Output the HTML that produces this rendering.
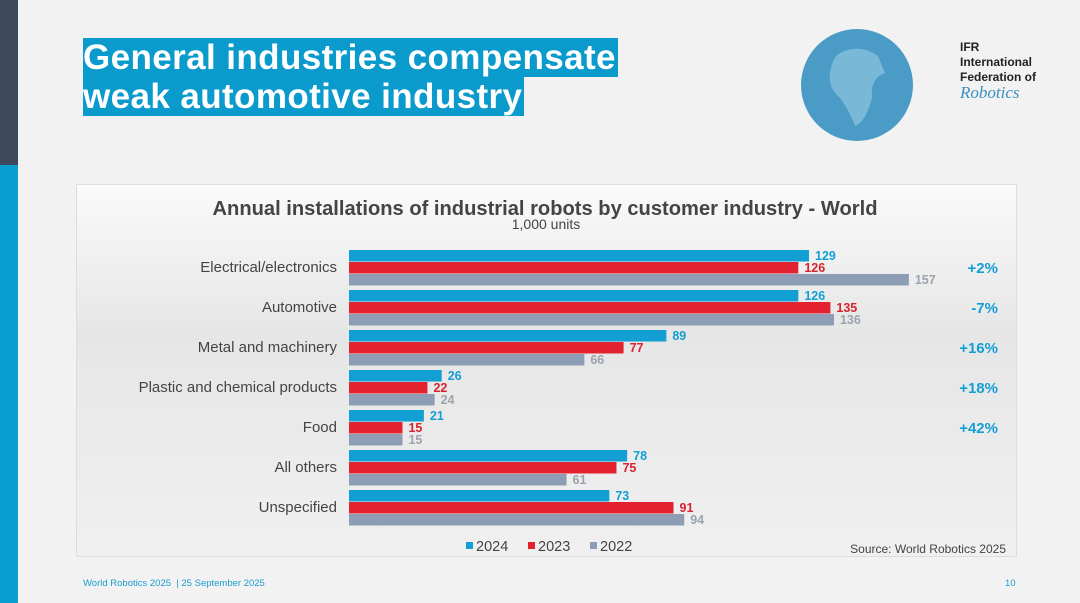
<!DOCTYPE html>
<html><head><meta charset="utf-8"><style>
body{margin:0;width:1080px;height:603px;background:#f2f2f2;font-family:"Liberation Sans",sans-serif;position:relative;overflow:hidden}
.abs{position:absolute}
.title{left:83px;top:38px;font-size:35px;font-weight:bold;color:#fff;line-height:39px;letter-spacing:0.4px}
.title span{background:#0a9bcc;padding:0 2px 0 0}
</style></head><body>
<div class="abs" style="left:0;top:0;width:18px;height:165px;background:#3d4a5e"></div>
<div class="abs" style="left:0;top:165px;width:18px;height:438px;background:#0a9fd0"></div>
<div class="abs title"><span>General industries compensate</span><br><span>weak automotive industry</span></div>
<svg class="abs" style="left:800px;top:28px" width="116" height="116"><circle cx="57" cy="57" r="56" fill="#4a9cc6"/><path d="M40 25 Q60 15 78 28 L85 45 Q70 50 72 70 Q65 95 55 98 Q48 80 40 70 Q28 60 30 45 Q32 30 40 25Z" fill="#7ab8d8"/></svg>
<div class="abs" style="left:960px;top:40px;font-size:12px;font-weight:bold;color:#222;line-height:15px">IFR<br>International<br>Federation of<br><span style="font-family:'Liberation Serif',serif;font-style:italic;font-weight:normal;color:#3a8fbf;font-size:17px">Robotics</span></div>
<div class="abs" style="left:76px;top:184px;width:939px;height:371px;background:linear-gradient(#fafafa,#e6e6e6 40%,#f0f0f0);border:1px solid #ddd"></div>
<svg class="abs" id="chart" style="left:0;top:0" width="1080" height="603"></svg>
<div class="abs" style="left:83px;top:578px;font-size:9.5px;color:#1a9ccf">World Robotics 2025 &nbsp;| 25 September 2025</div>
<div class="abs" style="left:1005px;top:578px;font-size:9.5px;color:#1a9ccf">10</div>
<script>
const categories=["Electrical/electronics","Automotive","Metal and machinery","Plastic and chemical products","Food","All others","Unspecified"];
const v2024=[129,126,89,26,21,78,73];
const v2023=[126,135,77,22,15,75,91];
const v2022=[157,136,66,24,15,61,94];
const growth=["+2%","-7%","+16%","+18%","+42%","",""];
const years=["2024","2023","2022"];
const svg=document.getElementById('chart');const NS="http://www.w3.org/2000/svg";
function x(v){return 349+v*3.566}
function y(i){return 250+i*40}
function el(t,a,txt){const e=document.createElementNS(NS,t);for(const k in a)e.setAttribute(k,a[k]);if(txt!==undefined)e.textContent=txt;svg.appendChild(e);return e}
let t=el('text',{x:545,y:215,'text-anchor':'middle','font-size':20,'font-weight':'bold',fill:'#444',textLength:665,lengthAdjust:'spacingAndGlyphs'},"Annual installations of industrial robots by customer industry - World");


t=el('text',{x:546,y:229,'text-anchor':'middle','font-size':14,fill:'#444'},"1,000 units");


const series=[v2024,v2023,v2022],cols=["#129fd4","#e3222f","#8d9db5"],lcols=["#129fd4","#d7222f","#9aa3ae"];
categories.forEach((c,i)=>{
 let l=el('text',{x:337,y:y(i)+22,'text-anchor':'end','font-size':15,fill:'#444'},c);
 
 
 series.forEach((s,j)=>{
  let r=el('rect',{x:349,y:y(i)+j*12,width:x(s[i])-349,height:11.5,fill:cols[j]});
  
  
  let v=el('text',{x:x(s[i])+6,y:y(i)+j*12+10,'font-size':12.5,'font-weight':'bold',fill:lcols[j]},s[i]);
  
  
 });
 if(growth[i]){let g=el('text',{x:998,y:y(i)+23,'text-anchor':'end','font-size':15,'font-weight':'bold',fill:'#129fd4'},growth[i]);
 
 }
});
years.forEach((yr,j)=>{
 let lx=466+j*62;
 let r=el('rect',{x:lx,y:542,width:7,height:7,fill:cols[j]});
 
 
 let lt=el('text',{x:lx+10,y:551,'font-size':14.5,fill:'#444'},yr);
 
 
});
t=el('text',{x:1006,y:553,'text-anchor':'end','font-size':12,fill:'#444'},"Source: World Robotics 2025");


</script>
</body></html>
